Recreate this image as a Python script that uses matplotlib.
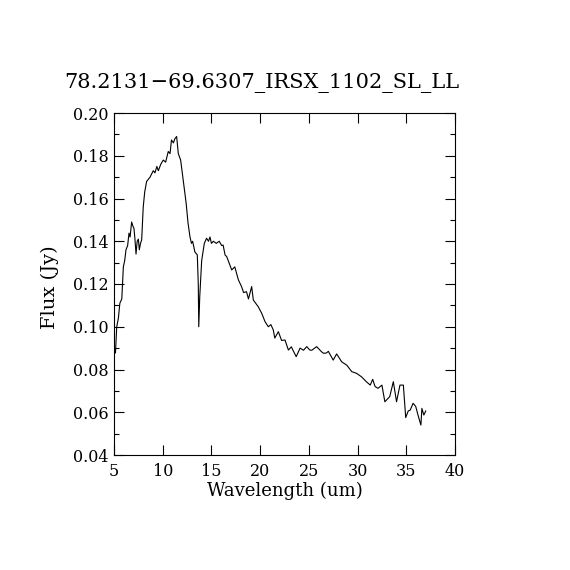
import numpy as np
import matplotlib
matplotlib.use("Agg")
import matplotlib.pyplot as plt
from matplotlib.ticker import MultipleLocator, FormatStrFormatter

# ── Spectrum ─────────────────────────────────────────────
wavelength = [5.1, 5.15, 5.28, 5.45, 5.6, 5.8, 5.96, 6.1, 6.23, 6.4, 6.54, 6.65,
              6.81, 6.95, 7.05, 7.15, 7.26, 7.38, 7.5, 7.6, 7.72, 7.84, 8.0,
              8.15, 8.35, 8.7, 9.03, 9.2, 9.4, 9.55, 9.8, 10.06, 10.3, 10.57,
              10.75, 10.9, 11.1, 11.25, 11.43, 11.6, 11.84, 12.1, 12.4, 12.6,
              12.8, 12.95, 13.07, 13.3, 13.55, 13.65, 13.7, 13.8, 14.0, 14.27,
              14.5, 14.7, 14.85, 15.0, 15.2, 15.5, 15.8, 16.05, 16.2, 16.4,
              16.57, 16.8, 17.08, 17.4, 17.76, 18.1, 18.3, 18.6, 18.8, 19.13,
              19.3, 19.8, 20.16, 20.5, 20.84, 21.1, 21.35, 21.5, 21.87, 22.2,
              22.55, 22.9, 23.2, 23.7, 24.1, 24.45, 24.78, 25.1, 25.3, 25.8,
              26.3, 26.5, 26.8, 27.0, 27.5, 27.85, 28.37, 28.9, 29.4, 29.9,
              30.4, 30.9, 31.3, 31.55, 31.8, 32.1, 32.5, 32.8, 33.3, 33.67,
              34.0, 34.35, 34.7, 34.94, 35.2, 35.4, 35.7, 35.97, 36.2, 36.5,
              36.6, 36.8, 37.0]
flux = [0.089, 0.0877, 0.100, 0.104, 0.111, 0.113, 0.128, 0.131, 0.136, 0.138,
        0.1438, 0.142, 0.149, 0.147, 0.146, 0.141, 0.134, 0.140, 0.141, 0.136,
        0.139, 0.1406, 0.156, 0.163, 0.168, 0.170, 0.173, 0.172, 0.175, 0.173,
        0.176, 0.178, 0.177, 0.182, 0.181, 0.1874, 0.186, 0.188, 0.189, 0.181,
        0.178, 0.1687, 0.158, 0.1485, 0.142, 0.139, 0.140, 0.135, 0.1336,
        0.120, 0.100, 0.114, 0.131, 0.139, 0.1414, 0.140, 0.142, 0.139, 0.140,
        0.139, 0.140, 0.138, 0.1382, 0.1336, 0.1328, 0.130, 0.1266, 0.128,
        0.122, 0.1187, 0.116, 0.1164, 0.113, 0.1188, 0.1125, 0.1094, 0.1063,
        0.1024, 0.100, 0.101, 0.0985, 0.0947, 0.0977, 0.0936, 0.0938, 0.0891,
        0.0906, 0.086, 0.090, 0.089, 0.0907, 0.0891, 0.089, 0.0907, 0.0883,
        0.0876, 0.0877, 0.0885, 0.0844, 0.0873, 0.0836, 0.082, 0.0790, 0.0782,
        0.0766, 0.0743, 0.0727, 0.0754, 0.0720, 0.0712, 0.0727, 0.0649,
        0.0673, 0.0743, 0.0649, 0.0727, 0.0727, 0.0575, 0.0606, 0.061,
        0.0642, 0.0627, 0.0587, 0.054, 0.0618, 0.0587, 0.0606]

title = "78.2131\u221269.6307_IRSX_1102_SL_LL"

plt.rcParams.update({
    "font.family": "DejaVu Serif",
    "font.size": 11,
})

W = H = 570
fig = plt.figure(figsize=(5.7, 5.7), dpi=100)
fig.patch.set_facecolor("white")
ax = fig.add_axes([114 / W, 1 - 455 / H, 341 / W, 342 / H])

ax.plot(wavelength, flux, color="black", linewidth=0.8)

ax.set_xlim(5, 40)
ax.set_ylim(0.04, 0.20)
ax.xaxis.set_major_locator(MultipleLocator(5))
ax.yaxis.set_major_locator(MultipleLocator(0.02))
ax.yaxis.set_minor_locator(MultipleLocator(0.01))
ax.yaxis.set_major_formatter(FormatStrFormatter("%.2f"))
ax.tick_params(which="both", direction="in", top=True, right=True,
               width=0.8, labelsize=11.5)
ax.tick_params(axis="x", pad=6)
ax.tick_params(axis="y", pad=4)
ax.tick_params(which="major", length=7)
ax.tick_params(which="minor", length=3.5)
for s in ax.spines.values():
    s.set_linewidth(0.8)

# labels and title placed to match the reference positions
fig.text(285 / W, 1 - 491 / H, "Wavelength (um)", fontsize=13,
         ha="center", va="center")
fig.text(50 / W, 1 - 287 / H, "Flux (Jy)", fontsize=14, rotation=90,
         ha="center", va="center")
fig.text(262 / W, 1 - 83 / H, title, fontsize=15, ha="center", va="center")

fig.savefig("out.png", dpi=100, facecolor="white")
plt.close()
